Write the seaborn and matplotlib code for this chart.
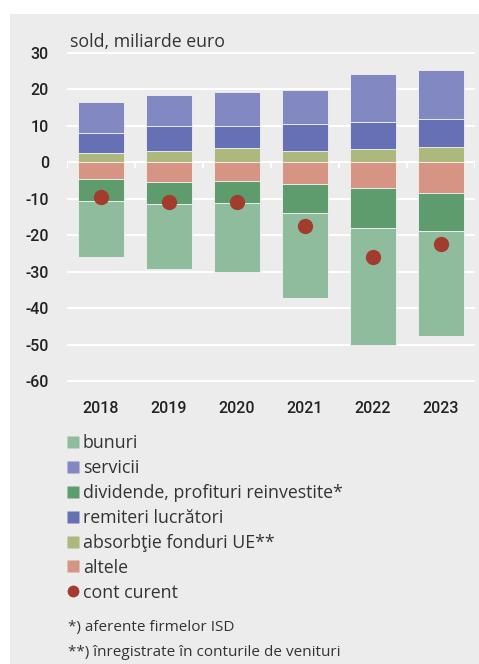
import matplotlib
matplotlib.use("Agg")
import matplotlib.pyplot as plt
import seaborn as sns
import numpy as np
import pandas as pd
from matplotlib.patches import Rectangle
from matplotlib.lines import Line2D

years = ["2018", "2019", "2020", "2021", "2022", "2023"]
absorbtie = [2.6, 3.1, 3.8, 3.2, 3.6, 4.2]
remiteri = [5.5, 6.75, 6.05, 7.2, 7.5, 7.6]
servicii = [8.4, 8.5, 9.45, 9.4, 13.0, 13.4]
altele = [-4.6, -5.3, -5.0, -5.9, -7.1, -8.5]
dividende = [-6.0, -6.1, -6.1, -8.1, -10.9, -10.3]
bunuri = [-15.3, -17.8, -18.9, -23.1, -32.0, -28.9]
cont_curent = [-9.4, -10.8, -10.9, -17.5, -25.9, -22.5]

labels = ["bunuri", "servicii", "dividende, profituri reinvestite*",
          "remiteri lucrători", "absorbţie fonduri UE**", "altele", "cont curent"]
yticks = [30, 20, 10, 0, -10, -20, -30, -40, -50, -60]
footnotes = ["*) aferente firmelor ISD", "**) înregistrate în conturile de venituri"]
ylabel_text = "sold, miliarde euro"

C_BUN = "#8fbc9d"
C_SERV = "#8288c2"
C_DIV = "#5f9c6d"
C_REM = "#6670b4"
C_ABS = "#adb87c"
C_ALT = "#d69484"
C_CC = "#a33c2d"
BG = "#ececec"

sns.set_theme(style="white")
plt.rcParams["font.family"] = ["Open Sans", "DejaVu Sans"]

fig = plt.figure(figsize=(4.79, 6.64), dpi=100)
fig.patch.set_facecolor("white")
bgrect = Rectangle((10 / 479, 0), 1 - 10 / 479, 1 - 14 / 664,
                   transform=fig.transFigure, facecolor=BG,
                   edgecolor="none", zorder=-10)
fig.patches.append(bgrect)

ax_left, ax_right = 67 / 479, 475 / 479
y_top_px, y_bot_px = 49.1, 395.9
ax = fig.add_axes([ax_left, 1 - y_bot_px / 664, ax_right - ax_left,
                   (y_bot_px - y_top_px) / 664])
ax.set_facecolor(BG)
ax.set_zorder(1)

w = 0.67
ekw = dict(edgecolor="#f2f2f2", linewidth=0.6, zorder=3)

pos_b1 = np.zeros(6)
pos_b2 = np.array(absorbtie)
pos_b3 = pos_b2 + np.array(remiteri)
neg_b1 = np.zeros(6)
neg_b2 = np.array(altele)
neg_b3 = neg_b2 + np.array(dividende)

for vals, bot, col in [(absorbtie, pos_b1, C_ABS), (remiteri, pos_b2, C_REM),
                       (servicii, pos_b3, C_SERV), (altele, neg_b1, C_ALT),
                       (dividende, neg_b2, C_DIV), (bunuri, neg_b3, C_BUN)]:
    sns.barplot(x=years, y=vals, bottom=bot, color=col, width=w, ax=ax,
                order=years, errorbar=None, saturation=1, **ekw)

sns.stripplot(x=years, y=cont_curent, order=years, jitter=False, size=11,
              color=C_CC, linewidth=0, ax=ax, zorder=5)

ax.set_xlim(-0.5, 5.5)
ax.set_ylim(-64, 31)
ax.set_yticks(yticks)
ax.set_yticklabels([str(v) for v in yticks])
for v in yticks:
    ax.axhline(v, color="white", linewidth=1.4, zorder=1)
for i in range(7):
    ax.plot([i - 0.5, i - 0.5], [0, -1.6], color="white", linewidth=1.4,
            zorder=1, solid_capstyle="butt")

for s in ax.spines.values():
    s.set_visible(False)
ax.grid(False)
ax.tick_params(axis="y", length=0, pad=13, labelsize=11.5, colors="#222222")
ax.tick_params(axis="x", length=0, pad=4, labelsize=11.5, colors="#222222")
for t in ax.get_yticklabels() + ax.get_xticklabels():
    t.set_fontfamily(["Roboto", "DejaVu Sans"])
    t.set_fontweight("medium")
ax.set_xlabel("")
ax.set_ylabel("")

fig.text(70 / 479, 1 - 42 / 664, ylabel_text, fontsize=12.8, color="#333333",
         va="center", ha="left")

handles = [Line2D([], [], marker="s", linestyle="none", markersize=8,
                  markerfacecolor=c, markeredgecolor="none")
           for c in [C_BUN, C_SERV, C_DIV, C_REM, C_ABS, C_ALT]]
handles.append(Line2D([], [], marker="o", linestyle="none", markersize=8.5,
                      markerfacecolor=C_CC, markeredgecolor="none"))
leg = fig.legend(handles, labels, loc="upper left",
                 bbox_to_anchor=(67 / 479, 1 - 434 / 664),
                 frameon=False, fontsize=12.8, handlelength=0.7,
                 handletextpad=0.2, labelspacing=0.39, borderpad=0,
                 borderaxespad=0)
for t in leg.get_texts():
    t.set_color("#333333")

fig.text(68 / 479, 1 - 628 / 664, footnotes[0], fontsize=11, color="#333333",
         va="center", ha="left")
fig.text(68 / 479, 1 - 652 / 664, footnotes[1], fontsize=11, color="#333333",
         va="center", ha="left")

fig.savefig("out.png", dpi=100, facecolor="white")
